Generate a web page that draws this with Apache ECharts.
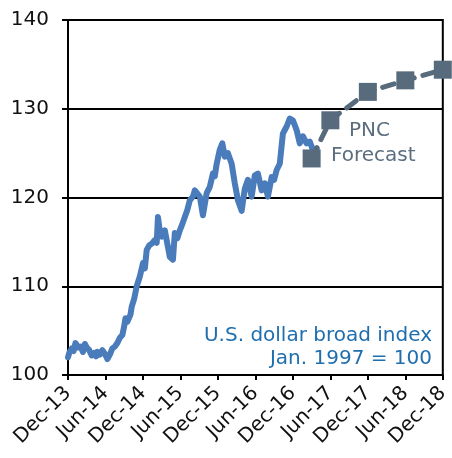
<!DOCTYPE html>
<html><head><meta charset="utf-8">
<script src="https://cdn.jsdelivr.net/npm/echarts@6/dist/echarts.min.js"></script>
<style>html,body{margin:0;padding:0;background:#fff}#c{width:452px;height:458px}</style>
</head><body><div id="c"></div>
<script>
// x = months since Dec-2013
const tickLabels = ['Dec-13','Jun-14','Dec-14','Jun-15','Dec-15','Jun-16','Dec-16','Jun-17','Dec-17','Jun-18','Dec-18'];
const histMonths = [0.0,0.2,0.6,0.9,1.2,1.6,2.0,2.4,2.7,3.0,3.4,3.8,4.2,4.5,4.7,5.1,5.5,5.9,6.3,6.7,7.1,7.5,7.9,8.3,8.7,9.0,9.2,9.5,9.8,10.0,10.2,10.6,11.0,11.5,12.0,12.3,12.6,13.0,13.4,13.9,14.2,14.4,14.7,15.0,15.5,15.9,16.3,16.8,17.1,17.5,17.9,18.3,18.7,19.1,19.5,20.0,20.3,20.6,21.1,21.6,22.2,22.7,23.2,23.5,23.8,24.3,24.7,25.1,25.6,26.2,26.7,27.2,27.8,28.3,28.8,29.4,29.9,30.4,31.0,31.5,32.0,32.6,33.0,33.4,33.9,34.4,35.0,35.5,36.0,36.6,37.1,37.6,38.2,38.7,39.3,39.8];
const histValues = [102.0,102.5,103.0,102.7,103.6,103.1,103.2,102.6,103.5,103.1,102.8,102.2,102.5,102.1,102.6,102.3,102.8,102.4,101.8,102.3,103.0,103.2,103.6,104.2,104.5,105.5,106.4,106.0,105.8,106.8,107.7,108.6,110.0,111.1,112.6,112.0,114.1,114.6,114.8,115.2,114.9,117.8,116.2,115.6,116.3,114.8,113.3,113.0,116.0,115.4,116.3,117.0,117.8,118.6,119.7,120.1,120.8,121.0,120.1,118.0,120.5,121.2,122.7,122.4,123.8,125.4,126.1,124.6,125.0,123.8,121.6,119.7,118.5,121.0,122.0,120.1,122.5,122.7,120.8,121.6,120.1,122.3,122.0,123.1,123.8,127.2,128.0,128.9,128.7,127.6,126.1,126.9,126.1,126.3,125.2,125.5];
const fcMonths = [39,42,48,54,60];
const fcValues = [124.4,128.7,131.9,133.2,134.4];

const hist = histMonths.map((m,i)=>[m,histValues[i]]);
const fc = fcMonths.map((m,i)=>[m,fcValues[i]]);
const font = 'DejaVu Sans';
const chart = echarts.init(document.getElementById('c'));
chart.setOption({
  animation:false,
  grid:{left:68,right:9,top:20,bottom:83,show:true,borderColor:'#000',borderWidth:2,backgroundColor:'transparent'},
  xAxis:{type:'value',min:0,max:60,interval:6,
    axisLine:{lineStyle:{color:'#000',width:2}},
    axisTick:{show:true,length:5,lineStyle:{color:'#000',width:2}},
    splitLine:{show:false},
    axisLabel:{rotate:45,fontFamily:font,fontSize:20,color:'#111',margin:15,
      formatter:v=>tickLabels[Math.round(v/6)]}},
  yAxis:{type:'value',min:100,max:140,interval:10,
    axisLine:{show:true,lineStyle:{color:'#000',width:2}},
    axisTick:{show:true,length:6,lineStyle:{color:'#000',width:2}},
    splitLine:{show:true,lineStyle:{color:'#000',width:2}},
    axisLabel:{fontFamily:font,fontSize:20,color:'#111',margin:19}},
  series:[
    {type:'line',data:hist,showSymbol:false,symbol:'none',
      lineStyle:{color:'#4a7cbb',width:6,cap:'round',join:'round'},z:3},
    {type:'line',data:fc,symbol:'rect',symbolSize:18,
      itemStyle:{color:'#576b7c'},
      lineStyle:{color:'#576b7c',width:5,type:[12,9],cap:'round'},z:4}
  ],
  graphic:[
    {type:'text',right:20,top:326,style:{text:'U.S. dollar broad index',font:'20px "DejaVu Sans"',fill:'#1f6eae',textAlign:'right'}},
    {type:'text',right:20,top:349,style:{text:'Jan. 1997 = 100',font:'20px "DejaVu Sans"',fill:'#1f6eae',textAlign:'right'}},
    {type:'text',left:349,top:121,style:{text:'PNC',font:'20px "DejaVu Sans"',fill:'#5b6e7f'}},
    {type:'text',left:331,top:146,style:{text:'Forecast',font:'20px "DejaVu Sans"',fill:'#5b6e7f'}}
  ]
});
</script></body></html>
